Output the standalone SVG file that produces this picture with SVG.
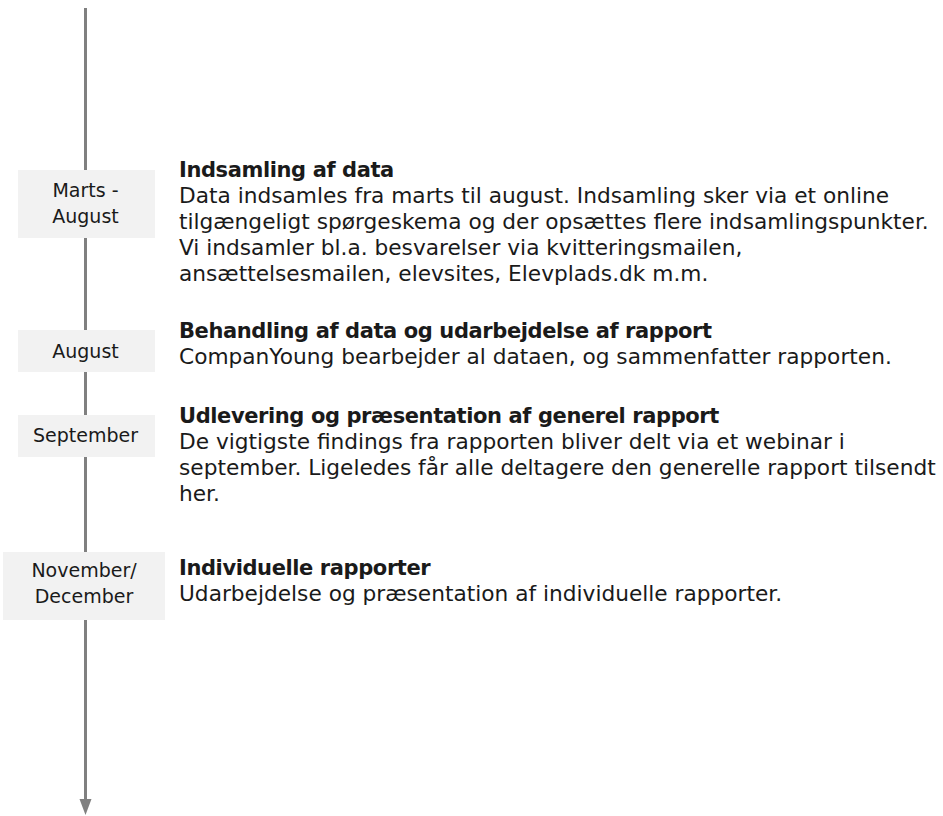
<svg xmlns="http://www.w3.org/2000/svg" width="943" height="816" viewBox="0 0 943 816">
<style>
.txt{font-family:"DejaVu Sans","Liberation Sans",sans-serif;font-size:21.7px;fill:#1a1a1a}
.ttl{font-weight:700;font-size:21px;letter-spacing:-0.4px}
.lbl{font-family:"DejaVu Sans","Liberation Sans",sans-serif;font-size:19px;fill:#1a1a1a;text-anchor:middle}
.box{fill:#f2f2f2}
</style>
<rect width="943" height="816" fill="#ffffff"/>
<g id="connectors">
<line x1="85.5" y1="8" x2="85.5" y2="801" stroke="#808080" stroke-width="3"/>
<polygon points="79.5,799 91.5,799 85.5,815" fill="#808080"/>
</g>
<g id="node-marts">
<rect class="box" x="18" y="170" width="137" height="68"/>
<text class="lbl" x="85.5" y="196.5">Marts -</text>
<text class="lbl" x="85.5" y="222.5">August</text>
<text class="txt ttl" x="179" y="177">Indsamling af data</text>
<text class="txt" x="179" y="203">Data indsamles fra marts til august. Indsamling sker via et online</text>
<text class="txt" x="179" y="229">tilgængeligt spørgeskema og der opsættes flere indsamlingspunkter.</text>
<text class="txt" x="179" y="255">Vi indsamler bl.a. besvarelser via kvitteringsmailen,</text>
<text class="txt" x="179" y="281">ansættelsesmailen, elevsites, Elevplads.dk m.m.</text>
</g>
<g id="node-august">
<rect class="box" x="18" y="330" width="137" height="42"/>
<text class="lbl" x="85.5" y="358">August</text>
<text class="txt ttl" x="179" y="338">Behandling af data og udarbejdelse af rapport</text>
<text class="txt" x="179" y="364">CompanYoung bearbejder al dataen, og sammenfatter rapporten.</text>
</g>
<g id="node-september">
<rect class="box" x="18" y="415" width="137" height="42"/>
<text class="lbl" x="85.5" y="442">September</text>
<text class="txt ttl" x="179" y="423">Udlevering og præsentation af generel rapport</text>
<text class="txt" x="179" y="449">De vigtigste findings fra rapporten bliver delt via et webinar i</text>
<text class="txt" x="179" y="475">september. Ligeledes får alle deltagere den generelle rapport tilsendt</text>
<text class="txt" x="179" y="501">her.</text>
</g>
<g id="node-november">
<rect class="box" x="3" y="552" width="162" height="68"/>
<text class="lbl" x="84" y="577">November/</text>
<text class="lbl" x="84" y="603">December</text>
<text class="txt ttl" x="179" y="575">Individuelle rapporter</text>
<text class="txt" x="179" y="601">Udarbejdelse og præsentation af individuelle rapporter.</text>
</g>
</svg>
